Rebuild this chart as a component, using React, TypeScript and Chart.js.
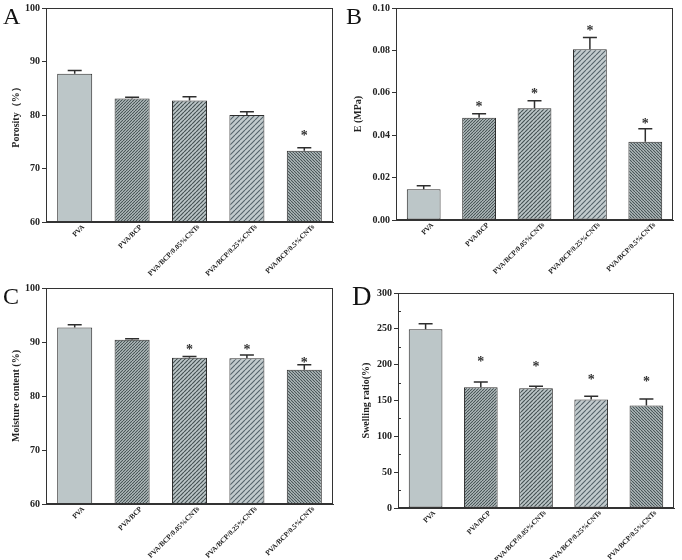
import React, { useEffect, useRef } from "react";
import { Chart, registerables } from "chart.js";
Chart.register(...registerables);

const categories = [
  "PVA",
  "PVA/BCP",
  "PVA/BCP/0.05%CNTs",
  "PVA/BCP/0.25%CNTs",
  "PVA/BCP/0.5%CNTs",
];

// Panel A: porosity
const porosity = [87.7, 83.1, 82.7, 80.0, 73.3];
const porosityErr = [0.6, 0.2, 0.7, 0.6, 0.6];
const porosityStars: (number | null)[] = [null, null, null, null, 76.6];
const porosityTicks = [60, 70, 80, 90, 100];

// Panel B: elastic modulus
const modulus = [0.0145, 0.0482, 0.0527, 0.0806, 0.0369];
const modulusErr = [0.0016, 0.0019, 0.0036, 0.0055, 0.0061];
const modulusStars: (number | null)[] = [null, 0.0545, 0.0607, 0.0907, 0.0466];
const modulusTicks = [0, 0.02, 0.04, 0.06, 0.08, 0.1];

// Panel C: moisture content
const moisture = [92.7, 90.4, 87.1, 87.0, 84.85];
const moistureErr = [0.5, 0.2, 0.2, 0.6, 0.95];
const moistureStars: (number | null)[] = [null, null, 89.0, 89.1, 86.7];
const moistureTicks = [60, 70, 80, 90, 100];

// Panel D: swelling ratio
const swelling = [249.3, 168.4, 167.0, 151.3, 142.9];
const swellingErr = [7.7, 7.4, 3.0, 4.6, 9.1];
const swellingStars: (number | null)[] = [null, 207.5, 201.3, 182.6, 179.8];
const swellingTicks = [0, 50, 100, 150, 200, 250, 300];
const swellingMinorTicks = [25, 75, 125, 175, 225, 275];

const SERIF = "'Liberation Serif', 'Times New Roman', serif";
const BASE = "#bcc6c8";
const LINE = "#465254";

function hatch(base: string, line: string, spacing: number, width: number, dir: number): CanvasPattern | string {
  const c = document.createElement("canvas");
  c.width = spacing;
  c.height = spacing;
  const ctx = c.getContext("2d");
  if (!ctx) return base;
  ctx.fillStyle = base;
  ctx.fillRect(0, 0, spacing, spacing);
  ctx.strokeStyle = line;
  ctx.lineWidth = width;
  ctx.beginPath();
  for (const o of [-spacing, 0, spacing]) {
    if (dir === 1) {
      ctx.moveTo(o, spacing);
      ctx.lineTo(o + spacing, 0);
    } else {
      ctx.moveTo(o, 0);
      ctx.lineTo(o + spacing, spacing);
    }
  }
  ctx.stroke();
  return ctx.createPattern(c, "repeat") || base;
}

type PanelProps = {
  left: number;
  top: number;
  letter: string;
  letterX: number;
  letterY: number;
  letterSize: number;
  values: number[];
  errors: number[];
  stars: (number | null)[];
  ticks: number[];
  minorTicks?: number[];
  decimals: number;
  yTitle: string;
  yAxisWidth: number;
  xAxisHeight: number;
  padTop: number;
  padRight: number;
  titleOffset: number;
};

function Panel(p: PanelProps) {
  const ref = useRef<HTMLCanvasElement>(null);
  useEffect(() => {
    const canvas = ref.current;
    if (!canvas) return;
    const fills = [
      BASE,
      hatch(BASE, LINE, 3, 1.1, 1),
      hatch(BASE, LINE, 4, 1.2, 1),
      hatch("#c2cbcd", "#56636a", 5, 1.1, 1),
      hatch(BASE, LINE, 3, 1.1, -1),
    ];
    const deco = {
      id: "deco",
      afterDatasetsDraw(chart: any) {
        const ctx = chart.ctx as CanvasRenderingContext2D;
        const meta = chart.getDatasetMeta(0);
        const ys = chart.scales.y;
        const a = chart.chartArea;
        ctx.save();
        ctx.strokeStyle = "#2e2e2e";
        ctx.lineWidth = 1.5;
        meta.data.forEach((bar: any, i: number) => {
          const x = bar.x;
          const y0 = ys.getPixelForValue(p.values[i]);
          const y1 = ys.getPixelForValue(p.values[i] + p.errors[i]);
          ctx.beginPath();
          ctx.moveTo(x, y0);
          ctx.lineTo(x, y1);
          ctx.moveTo(x - 7, y1);
          ctx.lineTo(x + 7, y1);
          ctx.stroke();
          const s = p.stars[i];
          if (s != null) {
            ctx.fillStyle = "#333";
            ctx.font = `bold 14px ${SERIF}`;
            ctx.textAlign = "center";
            ctx.textBaseline = "alphabetic";
            ctx.fillText("*", x, ys.getPixelForValue(s) + 7);
          }
          // rotated category label
          ctx.save();
          ctx.translate(x + 9, a.bottom + 4);
          ctx.rotate(-Math.PI / 4);
          ctx.fillStyle = "#222";
          ctx.font = `bold 7.2px ${SERIF}`;
          ctx.textAlign = "right";
          ctx.textBaseline = "middle";
          ctx.fillText(categories[i], 0, 0);
          ctx.restore();
        });
        ctx.lineWidth = 1;
        ctx.strokeStyle = "#333";
        ctx.strokeRect(a.left + 0.5, a.top + 0.5, a.right - a.left - 1, a.bottom - a.top - 1);
        if (p.minorTicks) {
          ctx.beginPath();
          p.minorTicks.forEach((v) => {
            const y = Math.round(ys.getPixelForValue(v)) + 0.5;
            ctx.moveTo(a.left, y);
            ctx.lineTo(a.left + 3, y);
          });
          ctx.stroke();
        }
        ctx.restore();
      },
    };
    const tickVals = p.ticks;
    const chart = new Chart(canvas, {
      type: "bar",
      data: {
        labels: categories,
        datasets: [
          {
            data: p.values,
            backgroundColor: fills as any,
            borderColor: "#2e2e2e",
            borderWidth: 1,
            borderSkipped: false,
            barPercentage: 0.61,
            categoryPercentage: 1,
          },
        ],
      },
      options: {
        responsive: false,
        animation: false,
        devicePixelRatio: 1,
        layout: { padding: { top: p.padTop, right: p.padRight, left: 0, bottom: 0 } },
        plugins: { legend: { display: false }, tooltip: { enabled: false }, title: { display: false } },
        scales: {
          x: {
            grid: { display: false },
            border: { display: true, color: "#333", width: 1 },
            ticks: { display: false },
            afterFit(scale: any) {
              scale.height = p.xAxisHeight;
            },
          },
          y: {
            min: tickVals[0],
            max: tickVals[tickVals.length - 1],
            afterBuildTicks(scale: any) {
              scale.ticks = tickVals.map((v) => ({ value: v }));
            },
            grid: {
              display: true,
              drawOnChartArea: false,
              drawTicks: true,
              tickLength: 4,
              color: "#333",
            },
            border: { display: true, color: "#333", width: 1 },
            ticks: {
              padding: 2,
              color: "#222",
              font: { family: SERIF, size: 10, weight: "bold" },
              callback: (v: any) => Number(v).toFixed(p.decimals),
            },
            title: {
              display: true,
              text: p.yTitle,
              color: "#222",
              font: { family: SERIF, size: 10, weight: "bold" },
              padding: { top: p.titleOffset, bottom: 0 },
            },
            afterFit(scale: any) {
              scale.width = p.yAxisWidth;
            },
          },
        },
      },
      plugins: [deco],
    } as any);
    return () => chart.destroy();
  }, []);
  return (
    <div style={{ position: "absolute", left: p.left, top: p.top, width: 341, height: 280 }}>
      <canvas ref={ref} width={341} height={280} style={{ width: 341, height: 280, display: "block" }} />
      <div
        style={{
          position: "absolute",
          left: p.letterX,
          top: p.letterY,
          fontFamily: SERIF,
          fontSize: p.letterSize,
          lineHeight: 1,
          color: "#111",
        }}
      >
        {p.letter}
      </div>
    </div>
  );
}

export default function App() {
  return (
    <div style={{ position: "absolute", left: 0, top: 0, width: 682, height: 560, background: "#fff" }}>
      <Panel
        left={0}
        top={0}
        letter="A"
        letterX={3}
        letterY={4}
        letterSize={24}
        values={porosity}
        errors={porosityErr}
        stars={porosityStars}
        ticks={porosityTicks}
        decimals={0}
        yTitle="Porosity（%）"
        yAxisWidth={46}
        xAxisHeight={58}
        padTop={7}
        padRight={8}
        titleOffset={10}
      />
      <Panel
        left={341}
        top={0}
        letter="B"
        letterX={5}
        letterY={4}
        letterSize={24}
        values={modulus}
        errors={modulusErr}
        stars={modulusStars}
        ticks={modulusTicks}
        decimals={2}
        yTitle="E (MPa)"
        yAxisWidth={55}
        xAxisHeight={60}
        padTop={7}
        padRight={9}
        titleOffset={11}
      />
      <Panel
        left={0}
        top={280}
        letter="C"
        letterX={3}
        letterY={4}
        letterSize={24}
        values={moisture}
        errors={moistureErr}
        stars={moistureStars}
        ticks={moistureTicks}
        decimals={0}
        yTitle="Moisture content (%)"
        yAxisWidth={46}
        xAxisHeight={56}
        padTop={8}
        padRight={8}
        titleOffset={10}
      />
      <Panel
        left={341}
        top={280}
        letter="D"
        letterX={11}
        letterY={3}
        letterSize={27}
        values={swelling}
        errors={swellingErr}
        stars={swellingStars}
        ticks={swellingTicks}
        minorTicks={swellingMinorTicks}
        decimals={0}
        yTitle="Swelling ratio(%)"
        yAxisWidth={57}
        xAxisHeight={52}
        padTop={13}
        padRight={8}
        titleOffset={19}
      />
    </div>
  );
}
